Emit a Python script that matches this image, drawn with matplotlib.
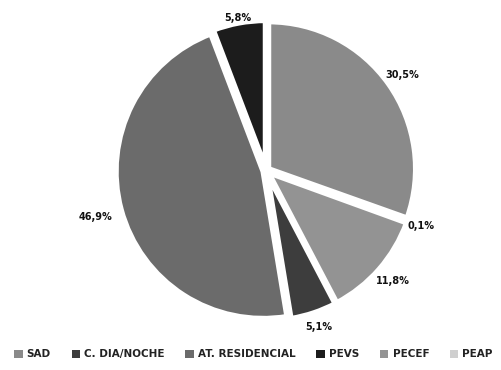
import numpy as np
import matplotlib
matplotlib.use("Agg")
import matplotlib.pyplot as plt
from matplotlib.patches import Patch

# share of users per service type (clockwise from 12 o'clock)
services = ["SAD", "PEAP", "PECEF", "C. DIA/NOCHE", "AT. RESIDENCIAL", "PEVS"]
shares = [30.5, 0.1, 11.8, 5.1, 46.9, 5.8]
share_labels = ["30,5%", "0,1%", "11,8%", "5,1%", "46,9%", "5,8%"]

# legend order as printed under the chart
legend_order = ["SAD", "C. DIA/NOCHE", "AT. RESIDENCIAL", "PEVS", "PECEF", "PEAP"]

colors = {
    "SAD": "#8a8a8a",
    "C. DIA/NOCHE": "#3d3d3d",
    "AT. RESIDENCIAL": "#6b6b6b",
    "PEVS": "#1c1c1c",
    "PECEF": "#939393",
    "PEAP": "#cfcfcf",
}

# how far each percentage sits from the centre (in radii)
label_radius = [1.13, 1.12, 1.14, 1.12, 1.2, 1.05]

fig = plt.figure(figsize=(5.02, 3.70), dpi=100)
ax = fig.add_axes([0.225, 0.129, 0.61, 0.82])

wedges, _ = ax.pie(
    shares,
    colors=[colors[s] for s in services],
    startangle=90,
    counterclock=False,
    explode=[0.02, 0.05, 0.02, 0.02, 0.02, 0.02],
    wedgeprops=dict(edgecolor="white", linewidth=4),
)

for w, lab, r in zip(wedges, share_labels, label_radius):
    mid = np.deg2rad((w.theta1 + w.theta2) / 2)
    ax.text(r * np.cos(mid), r * np.sin(mid), lab, ha="center", va="center",
            fontsize=7, color="#111111", family="DejaVu Sans", fontweight="bold")

ax.set_xlim(-1.03, 1.03)
ax.set_ylim(-1.03, 1.03)
ax.set_aspect("equal")
ax.axis("off")

handles = [Patch(facecolor=colors[s], edgecolor="none") for s in legend_order]
leg = fig.legend(
    handles, legend_order,
    loc="center", bbox_to_anchor=(0.505, 0.042), ncol=6, frameon=False,
    handlelength=0.8, handleheight=0.8, handletextpad=0.4, columnspacing=2.0,
    prop=dict(family="DejaVu Sans", weight="bold", size=7.5),
)
for t in leg.get_texts():
    t.set_color("#222222")

fig.savefig("out.png", dpi=100, facecolor="white")
